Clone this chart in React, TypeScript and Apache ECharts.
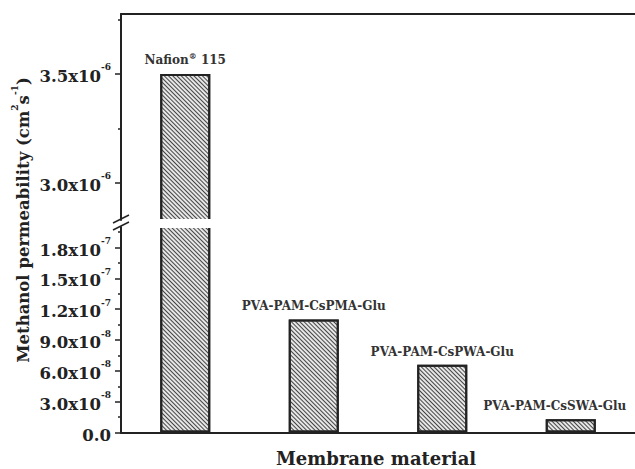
import React, { useEffect, useRef } from "react";
import * as echarts from "echarts";

const categories = ["Nafion® 115", "PVA-PAM-CsPMA-Glu", "PVA-PAM-CsPWA-Glu", "PVA-PAM-CsSWA-Glu"];
const barLabels = ["Nafion{sup|®} 115", "PVA-PAM-CsPMA-Glu", "PVA-PAM-CsPWA-Glu", "PVA-PAM-CsSWA-Glu"];
const permeability = [3.5e-6, 1.1e-7, 6.6e-8, 1.3e-8];

const upperMin = 2.83e-6;
const upperMax = 3.775e-6;
const upperTicks = [3.0e-6, 3.5e-6];
const upperTickLabels = ["3.0x10^-6", "3.5x10^-6"];
const upperMinorTicks = [3.25e-6, 3.75e-6];

const lowerMin = 0;
const lowerMax = 2.0e-7;
const lowerTicks = [0, 3e-8, 6e-8, 9e-8, 1.2e-7, 1.5e-7, 1.8e-7];
const lowerTickLabels = ["0.0", "3.0x10^-8", "6.0x10^-8", "9.0x10^-8", "1.2x10^-7", "1.5x10^-7", "1.8x10^-7"];
const lowerMinorTicks = [1.5e-8, 4.5e-8, 7.5e-8, 1.05e-7, 1.35e-7, 1.65e-7, 1.95e-7];

const FONT = "DejaVu Serif";

function fmt(ticks: number[], labels: string[]) {
  return (v: number) => {
    let best = 0;
    let d = Infinity;
    ticks.forEach((t, i) => {
      const dd = Math.abs(t - v);
      if (dd < d) { d = dd; best = i; }
    });
    const s = labels[best];
    const parts = s.split("^");
    return parts.length > 1 ? `{m|${parts[0]}}{s|${parts[1]}}` : `{m|${parts[0]}}`;
  };
}

const tickRich = {
  m: { fontFamily: FONT, fontWeight: "bold", fontSize: 16.5, color: "#222", lineHeight: 22, verticalAlign: "bottom" },
  s: { fontFamily: FONT, fontWeight: "bold", fontSize: 9, color: "#222", lineHeight: 22, verticalAlign: "top" },
};

function majorAxis(grid: number, min: number, max: number, ticks: number[], labels: string[]) {
  return {
    type: "value", gridIndex: grid, min, max, position: "left",
    splitLine: { show: false },
    axisLine: { show: true, lineStyle: { color: "#222", width: 2 } },
    axisTick: { show: true, inside: false, length: 6, customValues: ticks, lineStyle: { color: "#222", width: 1.5 } },
    axisLabel: { show: true, margin: 10, customValues: ticks, formatter: fmt(ticks, labels), rich: tickRich },
  };
}
function minorAxis(grid: number, min: number, max: number, ticks: number[]) {
  return {
    type: "value", gridIndex: grid, min, max, position: "left",
    splitLine: { show: false },
    axisLine: { show: false },
    axisTick: { show: true, inside: false, length: 3, customValues: ticks, lineStyle: { color: "#222", width: 1.5 } },
    axisLabel: { show: false },
  };
}

const decal = {
  symbol: "rect",
  symbolSize: 1,
  color: "#444",
  dashArrayX: [1, 0],
  dashArrayY: [1, 1.6],
  rotation: Math.PI / 4,
};

const labelStyle = {
  fontFamily: FONT, fontWeight: "bold", fontSize: 12, color: "#333",
  rich: { sup: { fontFamily: FONT, fontWeight: "bold", fontSize: 8, color: "#333", verticalAlign: "top", lineHeight: 16 } },
};

export default function App() {
  const ref = useRef<HTMLDivElement>(null);
  useEffect(() => {
    const chart = echarts.init(ref.current!, null, { renderer: "svg" });
    chart.setOption({
      animation: false,
      backgroundColor: "#fff",
      grid: [
        { left: 121, right: -4, top: 14, height: 206 },
        { left: 121, right: -4, top: 227, height: 205.5 },
      ],
      xAxis: [
        { type: "category", gridIndex: 0, data: categories, position: "top",
          axisLine: { show: true, onZero: false, lineStyle: { color: "#222", width: 2 } },
          axisTick: { show: false }, axisLabel: { show: false } },
        { type: "category", gridIndex: 1, data: categories, position: "bottom",
          axisLine: { show: true, onZero: false, lineStyle: { color: "#222", width: 2 } },
          axisTick: { show: false }, axisLabel: { show: false } },
      ],
      yAxis: [
        majorAxis(0, upperMin, upperMax, upperTicks, upperTickLabels),
        minorAxis(0, upperMin, upperMax, upperMinorTicks),
        majorAxis(1, lowerMin, lowerMax, lowerTicks, lowerTickLabels),
        minorAxis(1, lowerMin, lowerMax, lowerMinorTicks),
      ],
      series: [
        {
          type: "bar", xAxisIndex: 0, yAxisIndex: 0, barWidth: 50, clip: true,
          data: permeability.map((v, i) => (i === 0 ? v : "-")),
          itemStyle: { color: "#e6e6e6", borderColor: "#222", borderWidth: 2, decal },
          label: { show: true, position: "top", distance: 6, formatter: (p: any) => barLabels[p.dataIndex], ...labelStyle },
        },
        {
          type: "bar", xAxisIndex: 1, yAxisIndex: 2, barWidth: 50, clip: true,
          data: permeability.map((v, i) => ({
            value: v,
            label: { show: i !== 0, offset: i === 3 ? [-16, 0] : [0, 0] },
          })),
          itemStyle: { color: "#e6e6e6", borderColor: "#222", borderWidth: 2, decal },
          label: { show: true, position: "top", distance: 7, formatter: (p: any) => barLabels[p.dataIndex], ...labelStyle },
        },
      ],
      graphic: [
        { type: "rect", z: 100, shape: { x: 150, y: 219, width: 72, height: 9 }, style: { fill: "#fff" } },
        { type: "line", z: 100, shape: { x1: 113, y1: 223, x2: 129, y2: 215 }, style: { stroke: "#222", lineWidth: 1.5 } },
        { type: "line", z: 100, shape: { x1: 113, y1: 230, x2: 129, y2: 222 }, style: { stroke: "#222", lineWidth: 1.5 } },
        {
          type: "text", z: 100, x: 21, y: 220, rotation: Math.PI / 2,
          style: {
            text: "{m|Methanol permeability (cm}{s|2}{m|s}{s|-1}{m|)}",
            align: "center", verticalAlign: "middle",
            rich: {
              m: { fontFamily: FONT, fontWeight: "bold", fontSize: 16.5, fill: "#222", lineHeight: 22, verticalAlign: "bottom" },
              s: { fontFamily: FONT, fontWeight: "bold", fontSize: 9, fill: "#222", lineHeight: 22, verticalAlign: "top" },
            },
          },
        },
        {
          type: "text", z: 100, x: 376, y: 458,
          style: { text: "Membrane material", align: "center", verticalAlign: "middle",
            fontFamily: FONT, fontWeight: "bold", fontSize: 18, fill: "#222" },
        },
      ],
    });
    return () => chart.dispose();
  }, []);
  return <div ref={ref} style={{ position: "fixed", left: 0, top: 0, width: 635, height: 469 }} />;
}
